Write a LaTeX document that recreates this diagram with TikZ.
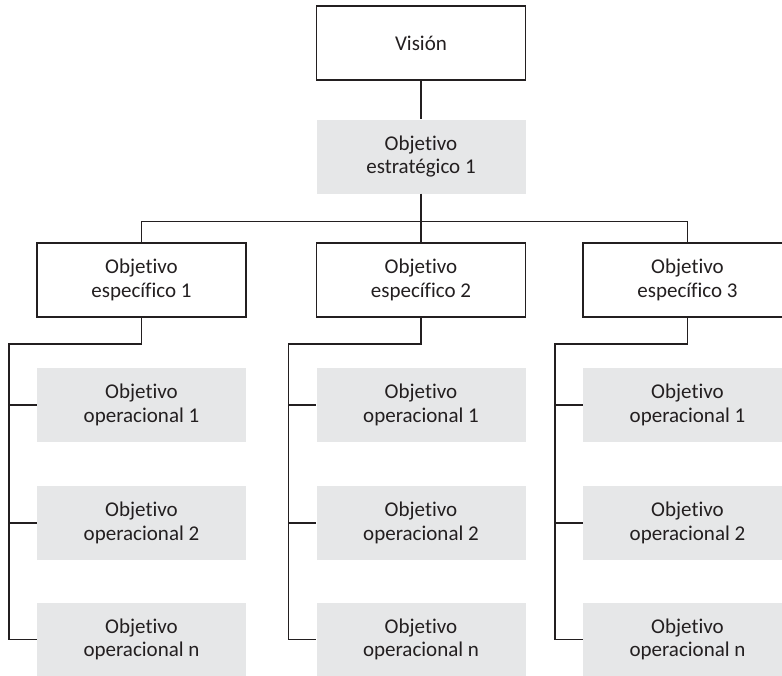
\documentclass[tikz,border=0pt]{standalone}
\usepackage{fontspec}
\setmainfont{Carlito}[Ligatures={NoCommon,NoRare,NoContextual}]
\definecolor{ink}{HTML}{231F20}
\definecolor{boxgrey}{HTML}{E6E7E8}
\begin{document}
\begin{tikzpicture}[x=1pt,y=-1pt,
  line/.style={draw=ink, line width=1.1pt},
  wbox/.style={draw=ink, line width=1.1pt, fill=white, minimum width=209pt, minimum height=74pt, align=center, font=\fontsize{21}{23.5}\selectfont, text=ink},
  gbox/.style={fill=boxgrey, minimum width=209pt, minimum height=74pt, align=center, font=\fontsize{21}{23.5}\selectfont, text=ink}]
\useasboundingbox (0,0) rectangle (782,675);
\clip (0,0) rectangle (782,675);
\node[wbox] (vis) at (421,43) {Visión};
\node[gbox] (est) at (421,156.5) {Objetivo\\estratégico 1};
\draw[line] (vis) -- (est);
\coordinate (bus) at (421,221.5);
\foreach \i/\cx in {1/141.5,2/421,3/687.5}{
  \node[wbox] (esp\i) at (\cx,280) {Objetivo\\específico \i};
  \coordinate (br\i) at (\cx,344);
  \coordinate (v\i) at (\cx-132.5,344);
  \node[gbox] (op\i a) at (\cx,405) {Objetivo\\operacional 1};
  \node[gbox] (op\i b) at (\cx,523) {Objetivo\\operacional 2};
  \node[gbox] (op\i n) at (\cx,639.5) {Objetivo\\operacional n};
  \draw[line] (esp\i.south) -- (br\i) -- (v\i) |- (op\i n.west);
  \draw[line] (v\i |- op\i a.west) -- (op\i a.west);
  \draw[line] (v\i |- op\i b.west) -- (op\i b.west);
}
\draw[line] (est.south) -- (bus);
\draw[line] (esp1.north) |- (bus) -| (esp3.north);
\draw[line] (bus) -- (esp2.north);
\end{tikzpicture}
\end{document}
